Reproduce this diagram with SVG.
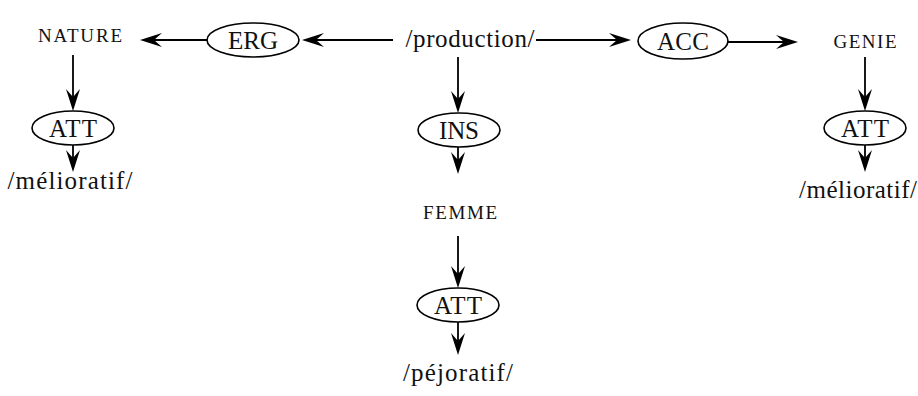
<svg xmlns="http://www.w3.org/2000/svg" width="918" height="396" viewBox="0 0 918 396">
<style>
text{font-family:"Liberation Serif","Times New Roman",serif;fill:#111;text-anchor:middle}
.big{font-size:25px}
.sm{font-size:19px}
ellipse{fill:#fff;stroke:#000;stroke-width:1.6}
.edge{stroke:#000;stroke-width:1.8;fill:none;marker-end:url(#ah)}
</style>
<defs>
<marker id="ah" markerUnits="userSpaceOnUse" markerWidth="26" markerHeight="18" viewBox="-10 -9 26 18" refX="0" refY="0" orient="auto">
<path d="M14,0 L-8,-7 L0,0 L-8,7 Z" fill="#000"/>
</marker>
</defs>
<g id="connectors">
<line class="edge" x1="393" y1="40" x2="316" y2="40"/>
<line class="edge" x1="207" y1="40" x2="154" y2="40"/>
<line class="edge" x1="536" y1="40" x2="617" y2="40"/>
<line class="edge" x1="728" y1="42" x2="784" y2="42"/>
<line class="edge" x1="73" y1="55" x2="73" y2="97"/>
<line class="edge" x1="73" y1="145" x2="73" y2="158"/>
<line class="edge" x1="458" y1="57" x2="458" y2="99"/>
<line class="edge" x1="458" y1="147" x2="458" y2="160"/>
<line class="edge" x1="458" y1="236" x2="458" y2="274"/>
<line class="edge" x1="458" y1="322" x2="458" y2="341"/>
<line class="edge" x1="865" y1="57" x2="865" y2="97"/>
<line class="edge" x1="865" y1="145" x2="865" y2="158"/>
</g>
<g id="node-nature"><text class="sm" x="80" y="42" textLength="84">NATURE</text></g>
<g id="node-erg"><ellipse cx="253" cy="40" rx="46" ry="17"/><text class="big" x="253" y="49" textLength="50">ERG</text></g>
<g id="node-production"><text class="big" x="470" y="47" textLength="129">/production/</text></g>
<g id="node-acc"><ellipse cx="683" cy="41" rx="45" ry="18"/><text class="big" x="683" y="50" textLength="52">ACC</text></g>
<g id="node-genie"><text class="sm" x="865" y="48" textLength="63">GENIE</text></g>
<g id="node-att1"><ellipse cx="73" cy="128" rx="41" ry="17"/><text class="big" x="73" y="137" textLength="48">ATT</text></g>
<g id="node-meliorat1"><text class="big" x="70" y="189" textLength="125">/mélioratif/</text></g>
<g id="node-ins"><ellipse cx="459" cy="130" rx="41" ry="17"/><text class="big" x="459" y="139" textLength="40">INS</text></g>
<g id="node-femme"><text class="sm" x="460" y="219" textLength="74">FEMME</text></g>
<g id="node-att2"><ellipse cx="458" cy="305" rx="41" ry="17"/><text class="big" x="458" y="314" textLength="48">ATT</text></g>
<g id="node-pejorat"><text class="big" x="458" y="381" textLength="110">/péjoratif/</text></g>
<g id="node-att3"><ellipse cx="865" cy="128" rx="41" ry="17"/><text class="big" x="865" y="137" textLength="48">ATT</text></g>
<g id="node-meliorat2"><text class="big" x="858" y="198" textLength="118">/mélioratif/</text></g>
</svg>
